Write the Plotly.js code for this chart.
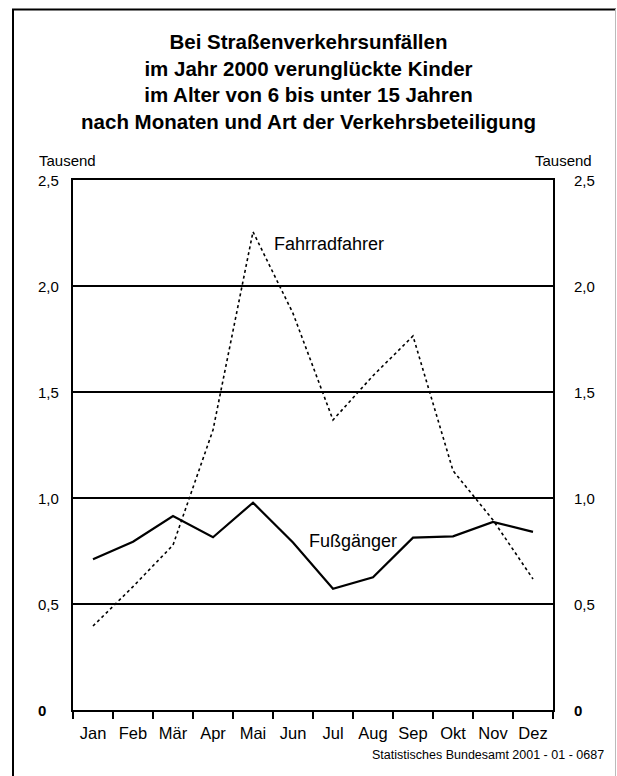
<!DOCTYPE html>
<html>
<head>
<meta charset="utf-8">
<script src="https://cdn.plot.ly/plotly-3.0.1.min.js"></script>
<style>html,body{margin:0;padding:0;background:#fff;}#chart{width:617px;height:776px;}</style>
</head>
<body>
<div id="chart"></div>
<script>
const months = ["Jan","Feb","Mär","Apr","Mai","Jun","Jul","Aug","Sep","Okt","Nov","Dez"];
const fussgaenger = [0.711,0.794,0.915,0.815,0.978,0.79,0.572,0.626,0.813,0.819,0.887,0.840];
const fahrradfahrer = [0.396,0.582,0.778,1.321,2.256,1.871,1.368,1.577,1.764,1.129,0.896,0.618];
const yTickVals = [0,0.5,1.0,1.5,2.0,2.5];
const yTickText = ["<b>0</b>","0,5","1,0","1,5","2,0","2,5"];
const titleLines = ["Bei Straßenverkehrsunfällen","im Jahr 2000 verunglückte Kinder","im Alter von 6 bis unter 15 Jahren","nach Monaten und Art der Verkehrsbeteiligung"];
const unitLabel = "Tausend";
const sourceText = "Statistisches Bundesamt 2001 - 01 - 0687";

const FONT = "Liberation Sans, Arial, Helvetica, sans-serif";
const W = 617, H = 776, L = 73, R = 64, T = 180, B = 66;
const pw = W - L - R, ph = H - T - B;
const px2x = p => (p - L) / pw;
const py2y = p => (H - B - p) / ph;

const traces = [
  {x: months, y: fahrradfahrer, type: "scatter", mode: "lines", name: "Fahrradfahrer",
   line: {color: "#000", width: 1.6, dash: "dot"}},
  {x: months, y: fussgaenger, type: "scatter", mode: "lines", name: "Fußgänger",
   line: {color: "#000", width: 2.2}}
];

const annotations = [];
yTickVals.forEach((v, i) => {
  annotations.push({xref: "paper", yref: "y", x: px2x(36), y: v, xanchor: "left", yanchor: "middle",
    text: yTickText[i], showarrow: false, font: {family: FONT, size: 15, color: "#000"}});
  annotations.push({xref: "paper", yref: "y", x: px2x(572), y: v, xanchor: "left", yanchor: "middle",
    text: yTickText[i], showarrow: false, font: {family: FONT, size: 15, color: "#000"}});
});
annotations.push({xref: "paper", yref: "paper", x: px2x(37), y: py2y(160), xanchor: "left", yanchor: "middle",
  text: unitLabel, showarrow: false, font: {family: FONT, size: 15, color: "#000"}});
annotations.push({xref: "paper", yref: "paper", x: px2x(594), y: py2y(160), xanchor: "right", yanchor: "middle",
  text: unitLabel, showarrow: false, font: {family: FONT, size: 15, color: "#000"}});
annotations.push({xref: "x", yref: "y", x: 4.47, y: 2.2, xanchor: "left", yanchor: "middle",
  text: "Fahrradfahrer", showarrow: false, font: {family: FONT, size: 18, color: "#000"}});
annotations.push({xref: "x", yref: "y", x: 5.35, y: 0.797, xanchor: "left", yanchor: "middle",
  text: "Fußgänger", showarrow: false, font: {family: FONT, size: 18, color: "#000"}});
annotations.push({xref: "paper", yref: "paper", x: px2x(606), y: py2y(755), xanchor: "right", yanchor: "middle",
  text: sourceText, showarrow: false, font: {family: FONT, size: 12.5, color: "#000"}});

const shapes = [
  {type: "line", xref: "paper", yref: "paper", x0: px2x(13), x1: px2x(13), y0: py2y(9), y1: py2y(780), line: {color: "#000", width: 2}},
  {type: "line", xref: "paper", yref: "paper", x0: px2x(12), x1: px2x(616), y0: py2y(9.5), y1: py2y(9.5), line: {color: "#000", width: 2}},
  {type: "line", xref: "paper", yref: "paper", x0: px2x(615.5), x1: px2x(615.5), y0: py2y(9), y1: py2y(780), line: {color: "#bbb", width: 1}}
];

const layout = {
  width: W, height: H,
  margin: {l: L, r: R, t: T, b: B, pad: 0},
  paper_bgcolor: "#fff", plot_bgcolor: "#fff",
  showlegend: false,
  font: {family: FONT, color: "#000"},
  title: {text: titleLines.join("<br>"), font: {family: FONT, size: 20.5, color: "#000", weight: "bold"},
          xref: "container", x: 0.5, xanchor: "center", yref: "container", y: 1 - 49 / H, yanchor: "top"},
  xaxis: {type: "category", range: [-0.5, 11.5], fixedrange: true,
          showline: true, linecolor: "#000", linewidth: 2, mirror: true,
          ticks: "outside", tickson: "boundaries", ticklen: 7, tickwidth: 1.5, tickcolor: "#000",
          showgrid: false, zeroline: false, tickangle: 0, ticklabelstandoff: 7,
          tickfont: {family: FONT, size: 16.5, color: "#000"}},
  yaxis: {range: [0, 2.5], fixedrange: true, tickvals: yTickVals.slice(1, 5),
          showticklabels: false, ticks: "",
          showline: true, linecolor: "#000", linewidth: 2, mirror: true,
          showgrid: true, gridcolor: "#000", gridwidth: 1.5, zeroline: false},
  annotations: annotations,
  shapes: shapes
};

Plotly.newPlot("chart", traces, layout, {displayModeBar: false, staticPlot: true});
</script>
</body>
</html>
